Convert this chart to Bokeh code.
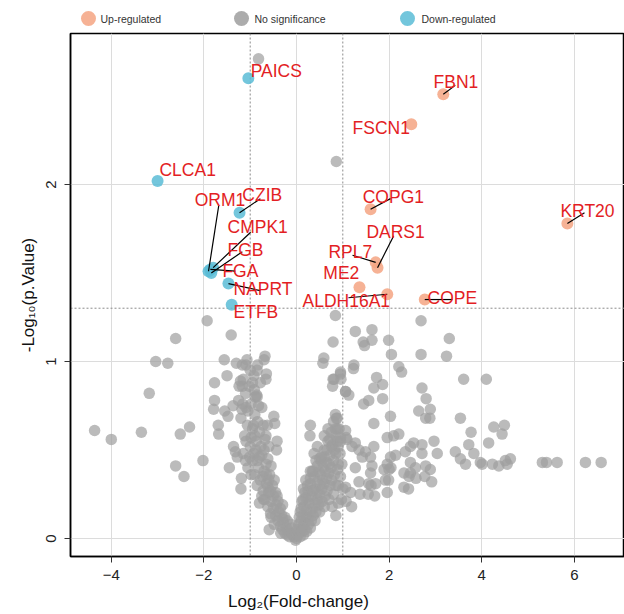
from bokeh.plotting import figure
from bokeh.models import Range1d, FixedTicker, Span, ColumnDataSource
from bokeh.layouts import column
from bokeh.embed import file_html
from bokeh.resources import INLINE
from bokeh.core.properties import value

# ---------------- data ----------------
up_genes = ["FBN1", "FSCN1", "COPG1", "KRT20", "DARS1", "RPL7", "ME2", "ALDH16A1", "COPE"]
up_x = [3.17, 2.48, 1.60, 5.85, 1.75, 1.71, 1.36, 1.96, 2.77]
up_y = [2.51, 2.34, 1.86, 1.78, 1.53, 1.56, 1.42, 1.38, 1.35]

down_genes = ["PAICS", "CLCA1", "CZIB", "ORM1", "CMPK1", "FGB", "FGA", "NAPRT", "ETFB"]
down_x = [-1.04, -3.00, -1.23, -1.90, -1.80, -1.84, -1.86, -1.47, -1.40]
down_y = [2.60, 2.02, 1.84, 1.51, 1.53, 1.50, 1.52, 1.44, 1.32]

ns_x = [
    -0.82, 0.86,
    -4.36, -4.00, -3.35, -3.18, -3.04, -2.78, -2.61, -2.51, -2.31, -2.61, -2.43, -2.02, -1.93, -1.41,
    -1.45, -1.19, -1.56, -1.50, -1.77, -1.77, -1.79, -1.55, -1.48, -1.37, -1.69, -1.68, -1.32, -1.28,
    -1.30, -1.17, -1.21, -1.17, -1.16, -1.07, -0.84, -0.68, -0.65, -0.91, -0.86, -1.36, -1.09, -0.70,
    -0.66, -0.85, -1.24, -1.09, -0.89, -0.82, -0.93, -1.09, -1.01, -1.20, -0.59, -0.47, -0.66, -0.43,
    -0.49, -0.63, -0.42, -0.56, -0.71,
    -1.00, -0.95, -0.85, -1.10, -1.25, -1.05, -0.90, -0.75, -1.20, -0.95, -1.12, -0.80, -0.68, -1.00,
    -0.88, -1.15, -0.75, -0.62, -0.95, -1.05, -0.82, -0.70, -0.90, -0.58, -0.78, -0.65, -0.85, -0.52,
    -0.72, -0.60, -0.45, -0.68, -0.55, -0.40, -0.62, -0.50, -0.35, -0.80, -0.45, -0.32, -0.55, -0.40,
    -0.28, -0.35, -0.22, -0.30, -0.18, -0.12, -0.25, -0.08, -0.15, -0.05, 0.00, -0.02,
    -0.98, -0.87, -0.77, -0.92, -0.66, -0.85, -0.73, -0.48, -0.62, -0.42, -0.30, -0.20, -0.10,
    -1.15, -1.02, -0.92, -0.78, -1.18, -0.98, -0.84, -0.72, -1.06, -0.90, -0.60, -0.70, -0.55, -0.80,
    -1.10, -0.98, -0.60, -0.50, -0.75, -0.38, -0.48, -0.25, -0.20, -0.30, -0.65, -0.56, -0.44, -0.34,
    -0.12,
    0.03, 0.06, 0.10, 0.05, 0.14, 0.10, 0.18, 0.20, 0.14, 0.25, 0.08, 0.22, 0.30, 0.16, 0.35, 0.27,
    0.12, 0.40, 0.20, 0.33, 0.45, 0.25, 0.50, 0.40, 0.15, 0.55, 0.30, 0.45, 0.60, 0.20, 0.38, 0.65,
    0.52, 0.70, 0.30, 0.58, 0.45, 0.75, 0.65, 0.80, 0.50, 0.72, 0.85, 0.60, 0.90, 0.78, 0.68, 0.95,
    0.85, 0.75, 0.92, 0.60, 0.80, 0.45, 0.38, 0.90, 0.95, 0.85, 0.80, 0.70, 0.90, 0.60, 1.00, 0.50,
    0.40, 0.30, 0.22, 0.15,
    0.02, 0.08, 0.12, 0.18, 0.26, 0.32, 0.36, 0.42, 0.48, 0.55, 0.62, 0.66, 0.72, 0.76, 0.82, 0.88,
    0.06, 0.10, 0.14, 0.18, 0.24, 0.30, 0.36, 0.42, 0.48, 0.54, 0.60, 0.66, 0.70, 0.76, 0.82, 0.88,
    0.94, 0.98, 0.56, 0.62, 0.68, 0.72, 0.50, 0.26, 0.35, 0.44, 0.90, 0.97, 0.77, 0.85,
    0.84, 0.79, 0.59, 0.57, 1.27, 1.63, 1.44, 1.47, 1.63, 1.99, 2.05, 2.69, 2.69, 3.30, 3.24, 1.24,
    0.95, 0.79, 2.21, 2.27, 3.61, 4.10, 1.73, 1.86, 1.67, 1.06, 1.13, 2.71, 2.80, 1.86, 1.56, 1.45,
    2.64, 2.89, 2.79, 2.88, 2.03, 1.67, 3.54, 4.26, 4.49, 4.44, 3.77, 4.15, 3.72, 3.43, 3.54, 3.65,
    3.83, 3.97, 4.01, 4.23, 4.37, 4.51, 4.62, 4.55, 5.31, 5.40, 5.63, 6.24, 6.58, 2.21, 1.96, 2.10,
    2.53, 2.46, 2.71, 2.97, 3.04, 2.71, 2.35, 2.14, 2.03, 1.96, 2.46, 2.57, 2.79, 2.89, 2.32, 2.43,
    1.89, 2.00, 1.99, 1.67, 1.60, 1.49, 1.42, 1.63, 1.60, 1.35, 1.56, 1.71, 1.17, 1.06, 1.27, 1.20,
    1.09, 0.95, 1.06, 0.88, 0.84, 0.88, 1.27, 1.35, 0.81, 0.95, 1.06, 1.23, 0.96, 0.78, 0.29, 0.86,
    1.07, 0.84, 0.53, 0.34, 1.07, 1.19, 1.37, 1.55, 1.69, 1.61, 1.96, 2.32, 2.42, 1.92, 2.04, 2.46,
    2.58, 2.77, 2.92, 0.30,
]
ns_y = [
    2.71, 2.13,
    0.61, 0.56, 0.60, 0.82, 1.00, 0.99, 1.13, 0.59, 0.63, 0.41, 0.35, 0.44, 1.23, 1.15,
    0.40, 0.34, 1.01, 0.92, 0.88, 0.78, 0.73, 0.72, 0.69, 0.75, 0.64, 0.59, 0.49, 0.46,
    0.99, 0.98, 0.89, 0.86, 0.76, 1.01, 0.98, 1.03, 0.93, 0.84, 0.81, 0.52, 0.98, 1.01,
    0.90, 0.95, 0.86, 0.74, 0.80, 0.75, 0.64, 0.55, 0.46, 0.28, 0.05, 0.65, 0.58, 0.50,
    0.69, 0.64, 0.55, 0.14, 0.22,
    0.95, 0.88, 0.80, 0.82, 0.78, 0.72, 0.70, 0.74, 0.68, 0.62, 0.58, 0.60, 0.56, 0.52,
    0.50, 0.48, 0.47, 0.45, 0.44, 0.40, 0.40, 0.38, 0.36, 0.36, 0.33, 0.31, 0.30, 0.30,
    0.27, 0.26, 0.26, 0.22, 0.21, 0.21, 0.18, 0.17, 0.17, 0.20, 0.13, 0.13, 0.12, 0.10,
    0.09, 0.07, 0.06, 0.05, 0.04, 0.03, 0.03, 0.02, 0.01, 0.01, 0.00, -0.01,
    0.57, 0.55, 0.52, 0.48, 0.42, 0.44, 0.35, 0.33, 0.29, 0.24, 0.19, 0.10, 0.06,
    0.90, 0.86, 0.92, 0.88, 0.73, 0.76, 0.66, 0.64, 0.64, 0.58, 0.52, 0.50, 0.41, 0.46,
    0.44, 0.36, 0.33, 0.24, 0.24, 0.15, 0.08, 0.12, 0.02, 0.11, 0.36, 0.27, 0.19, 0.03,
    0.08,
    0.02, 0.04, 0.05, 0.08, 0.07, 0.10, 0.09, 0.12, 0.13, 0.12, 0.15, 0.16, 0.15, 0.18, 0.17, 0.20,
    0.21, 0.20, 0.23, 0.24, 0.22, 0.27, 0.25, 0.28, 0.28, 0.28, 0.31, 0.32, 0.31, 0.33, 0.35, 0.34,
    0.36, 0.37, 0.38, 0.40, 0.41, 0.40, 0.43, 0.44, 0.45, 0.47, 0.48, 0.50, 0.52, 0.53, 0.55, 0.55,
    0.58, 0.60, 0.62, 0.58, 0.66, 0.52, 0.48, 0.42, 0.35, 0.30, 0.25, 0.22, 0.20, 0.18, 0.28, 0.15,
    0.10, 0.06, 0.04, 0.02,
    0.05, 0.01, 0.04, 0.05, 0.08, 0.10, 0.13, 0.15, 0.19, 0.21, 0.24, 0.27, 0.30, 0.33, 0.36, 0.39,
    0.12, 0.17, 0.22, 0.26, 0.30, 0.34, 0.38, 0.44, 0.38, 0.44, 0.46, 0.50, 0.42, 0.52, 0.50, 0.55,
    0.48, 0.42, 0.33, 0.38, 0.62, 0.56, 0.30, 0.22, 0.27, 0.26, 0.30, 0.22, 0.18, 0.13,
    1.26, 1.11, 1.02, 0.99, 1.17, 1.18, 1.11, 1.09, 1.12, 1.12, 1.04, 1.23, 1.04, 1.13, 1.03, 0.98,
    0.93, 0.90, 0.97, 0.94, 0.90, 0.90, 0.91, 0.87, 0.85, 0.83, 0.81, 0.85, 0.79, 0.79, 0.78, 0.76,
    0.72, 0.73, 0.68, 0.68, 0.69, 0.65, 0.68, 0.63, 0.64, 0.59, 0.60, 0.54, 0.53, 0.49, 0.45, 0.42,
    0.48, 0.43, 0.42, 0.42, 0.41, 0.44, 0.45, 0.42, 0.43, 0.43, 0.43, 0.43, 0.43, 0.59, 0.57, 0.58,
    0.54, 0.52, 0.53, 0.55, 0.48, 0.48, 0.49, 0.47, 0.46, 0.42, 0.43, 0.40, 0.41, 0.39, 0.37, 0.35,
    0.39, 0.39, 0.33, 0.52, 0.46, 0.49, 0.46, 0.41, 0.37, 0.32, 0.31, 0.31, 0.26, 0.29, 0.40, 0.52,
    0.56, 0.57, 0.61, 0.62, 0.70, 0.68, 0.54, 0.50, 0.90, 0.94, 0.83, 0.96, 0.90, 0.86, 0.58, 0.68,
    0.57, 0.62, 0.46, 0.38, 0.21, 0.18, 0.25, 0.25, 0.24, 0.30, 0.26, 0.29, 0.28, 0.33, 0.40, 0.37,
    0.34, 0.35, 0.32, 0.64,
]

x_ticks = [-4, -2, 0, 2, 4, 6]
y_ticks = [0, 1, 2]
fc_cut = 1.0
p_cut = 1.301

legend_labels = ["Up-regulated", "No significance", "Down-regulated"]
x_title = "Log\u2082(Fold-change)"
y_title = "-Log\u2081\u2080(p.Value)"

# ---------------- label layout (text anchor, leader end) ----------------
label_pos = {
    "PAICS": (-0.99, 2.64), "CLCA1": (-2.96, 2.08), "FBN1": (2.96, 2.58), "FSCN1": (1.21, 2.32),
    "COPG1": (1.43, 1.93), "KRT20": (5.70, 1.85), "DARS1": (1.51, 1.73), "RPL7": (0.69, 1.62),
    "ME2": (0.58, 1.50), "ALDH16A1": (0.13, 1.34), "COPE": (2.83, 1.36), "CZIB": (-1.17, 1.94),
    "ORM1": (-2.20, 1.91), "CMPK1": (-1.49, 1.76), "FGB": (-1.49, 1.63), "FGA": (-1.60, 1.51),
    "NAPRT": (-1.36, 1.41), "ETFB": (-1.36, 1.28),
}
leader_end = {
    "FBN1": (3.43, 2.56), "COPG1": (2.03, 1.92), "KRT20": (6.22, 1.84), "DARS1": (2.10, 1.71),
    "RPL7": (1.21, 1.60), "ALDH16A1": (1.12, 1.36), "COPE": (3.37, 1.35), "CZIB": (-0.78, 1.92),
    "ORM1": (-1.68, 1.88), "CMPK1": (-0.99, 1.73), "FGB": (-1.17, 1.62), "FGA": (-1.32, 1.51),
    "NAPRT": (-0.78, 1.40),
}

UP_C = "#F4A582"
NS_C = "#9E9E9E"
DN_C = "#5BBCD6"
RED = "#E31E24"
FONT = "Liberation Sans"
LEFT = 70
W = 624


def strip(h):
    # pixel-space strip whose frame is aligned with the main plot frame
    f = figure(width=W, height=h, x_range=Range1d(LEFT, W), y_range=Range1d(0, h),
               x_axis_type=None, y_axis_type=None, toolbar_location=None,
               output_backend="svg", min_border_left=LEFT, min_border_right=0,
               min_border_top=0, min_border_bottom=0)
    f.grid.visible = False
    f.outline_line_color = None
    return f


# ---------------- legend strip ----------------
leg = strip(32)
leg_src = ColumnDataSource(dict(cx=[88, 241, 407], tx=[100, 254, 421], y=[14, 14, 14],
                                c=[UP_C, NS_C, DN_C], t=legend_labels))
leg.scatter("cx", "y", source=leg_src, size=15, fill_color="c", line_color=None, fill_alpha=0.85)
leg.text("tx", "y", text="t", source=leg_src, text_font=value(FONT), text_font_size="10.5px",
         text_color="#333333", text_baseline="middle", text_align="left")

# ---------------- main plot ----------------
p = figure(width=W, height=556, x_range=Range1d(-4.881, 7.084), y_range=Range1d(-0.1017, 2.853),
           toolbar_location=None, output_backend="svg",
           min_border_left=LEFT, min_border_right=0, min_border_top=1, min_border_bottom=32)
p.outline_line_color = "black"
p.outline_line_width = 1.5

p.xaxis.ticker = FixedTicker(ticks=x_ticks)
p.yaxis.ticker = FixedTicker(ticks=y_ticks)
p.xgrid.ticker = FixedTicker(ticks=x_ticks)
p.ygrid.ticker = FixedTicker(ticks=y_ticks)
p.grid.grid_line_color = "#DCDCDC"
p.grid.grid_line_width = 1

for ax in (p.xaxis[0], p.yaxis[0]):
    ax.axis_line_color = "black"
    ax.axis_line_width = 1.5
    ax.major_tick_line_color = "#333333"
    ax.major_tick_out = 6
    ax.major_tick_in = 0
    ax.minor_tick_line_color = None
    ax.major_label_text_font = FONT
    ax.major_label_text_font_size = "15px"
    ax.major_label_text_color = "#222222"

p.xaxis.major_label_standoff = 7
p.yaxis.major_label_orientation = "vertical"
p.yaxis.major_label_standoff = 8
p.yaxis.axis_label = y_title
p.yaxis.axis_label_text_font = FONT
p.yaxis.axis_label_text_font_size = "17px"
p.yaxis.axis_label_text_font_style = "normal"
p.yaxis.axis_label_text_color = "#111111"
p.yaxis.axis_label_standoff = 6

for loc in (-fc_cut, fc_cut):
    p.add_layout(Span(location=loc, dimension="height", line_color="#8C8C8C",
                      line_width=1, line_dash="2 2", level="underlay"))
p.add_layout(Span(location=p_cut, dimension="width", line_color="#8C8C8C",
                  line_width=1, line_dash="2 2", level="underlay"))

p.scatter(ns_x, ns_y, size=11.5, fill_color=NS_C, fill_alpha=0.7, line_color=None)
p.scatter(up_x, up_y, size=12, fill_color=UP_C, fill_alpha=0.85, line_color=None)
p.scatter(down_x, down_y, size=12, fill_color=DN_C, fill_alpha=0.85, line_color=None)

pt = {g: (x, y) for g, x, y in zip(up_genes + down_genes, up_x + down_x, up_y + down_y)}

seg = dict(x0=[], y0=[], x1=[], y1=[])
for g, (ex, ey) in leader_end.items():
    sx, sy = pt[g]
    seg["x0"].append(sx); seg["y0"].append(sy); seg["x1"].append(ex); seg["y1"].append(ey)
p.segment("x0", "y0", "x1", "y1", source=ColumnDataSource(seg), line_color="black", line_width=1.2)

lab = dict(x=[], y=[], t=[])
for g in up_genes + down_genes:
    lx, ly = label_pos[g]
    lab["x"].append(lx); lab["y"].append(ly); lab["t"].append(g)
p.text("x", "y", text="t", source=ColumnDataSource(lab), text_font=value(FONT),
       text_font_size="17.5px", text_color=RED, text_baseline="middle", text_align="left")

# ---------------- x-axis title strip ----------------
bot = strip(26)
bot.text(x=[298], y=[13], text=[x_title], text_font=value(FONT), text_font_size="17px",
         text_color="#111111", text_align="center", text_baseline="middle")

layout = column(leg, p, bot)
open("out.html", "w").write(file_html(layout, INLINE))
